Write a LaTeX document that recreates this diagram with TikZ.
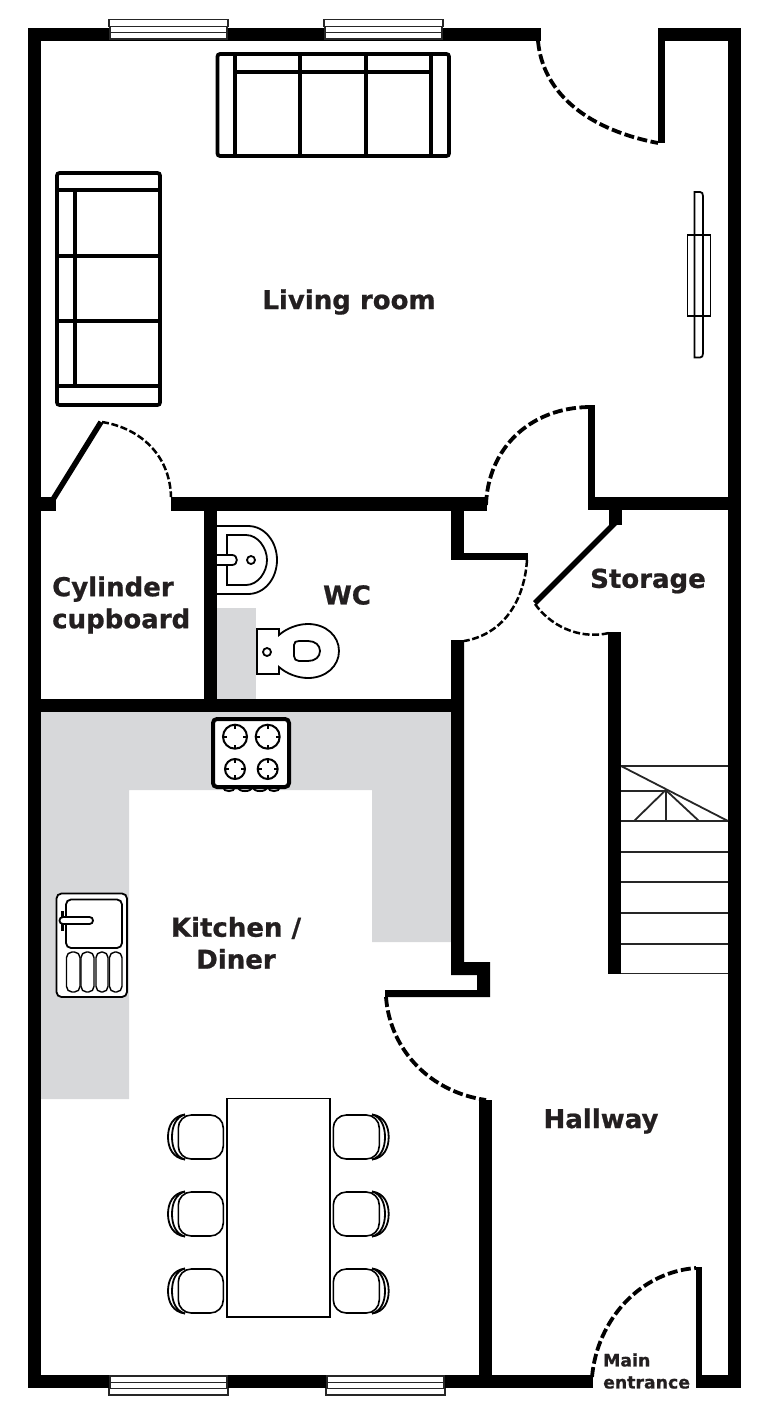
\documentclass[tikz,border=0pt]{standalone}
\usepackage{fontspec}
\setmainfont{DejaVu Sans}[BoldFeatures={FakeBold=0.8}]
\definecolor{counter}{HTML}{D7D8DA}
\definecolor{labelink}{HTML}{231F20}
\tikzset{
  wall/.style={fill=black,draw=none},
  dooredge/.style={line width=5.5pt,black},
  swingbig/.style={line width=3.8pt,dash pattern=on 10pt off 3.5pt,black},
  swingsmall/.style={line width=2.5pt,dash pattern=on 7pt off 2.6pt,black},
  sofa/.style={line width=3.7pt,black},
  fine/.style={line width=1.8pt,black},
  stairline/.style={line width=1.8pt,black!85},
  pane/.style={line width=1.5pt,draw=black!85,fill=white},
  label/.style={inner sep=0pt,text=labelink,font=\bfseries\fontsize{26}{32}\selectfont,align=center},
  smalllabel/.style={inner sep=0pt,text=labelink,font=\bfseries\fontsize{17.3}{22}\selectfont,align=left,anchor=west}
}
\begin{document}
\begin{tikzpicture}[x=1pt,y=-1pt]
\useasboundingbox (0,0) rectangle (766,1406);
% counters
\fill[counter] (41,712) -- (451,712) -- (451,942) -- (372,942) -- (372,790) -- (129,790) -- (129,1099) -- (41,1099) -- cycle;
\fill[counter] (217,608) rectangle (256,699);
% walls
\fill[wall] (28,28) rectangle (541,41);
\fill[wall] (658,28) rectangle (741,41);
\fill[wall] (658,28) rectangle (665,143);
\fill[wall] (28,28) rectangle (41,1388);
\fill[wall] (728,28) rectangle (741,1388);
\fill[wall] (28,497) rectangle (56,511);
\fill[wall] (171,497) rectangle (487,511);
\fill[wall] (204,497) rectangle (217,712);
\fill[wall] (28,699) rectangle (464,712);
\fill[wall] (451,497) rectangle (464,559);
\fill[wall] (451,553) rectangle (528,560);
\fill[wall] (588,405) rectangle (595,510);
\fill[wall] (588,497) rectangle (741,510);
\fill[wall] (609,510) rectangle (622,525);
\fill[wall] (608,632) rectangle (621,974);
\fill[wall] (451,640) -- (464,640) -- (464,962) -- (490,962) -- (490,997) -- (385,997) -- (385,990) -- (477,990) -- (477,975) -- (451,975) -- cycle;
\fill[wall] (479,1100) rectangle (492,1388);
\fill[wall] (28,1375) rectangle (593,1388);
\fill[wall] (696,1375) rectangle (741,1388);
\fill[wall] (696,1267) rectangle (702,1388);
% door leaves
\draw[dooredge] (52,501) -- (101,422);
\draw[dooredge] (617,521) -- (535,603);
% door swings
\draw[swingbig] (538,41) .. controls (543,95) and (590,130) .. (658,143);
\draw[swingsmall] (102,422) .. controls (140,428) and (170,455) .. (171,497);
\draw[swingbig] (486,505) .. controls (488,448) and (530,408) .. (589,407);
\draw[swingsmall] (527,560) .. controls (524,605) and (500,635) .. (464,641);
\draw[swingsmall] (535,604) .. controls (550,625) and (578,640) .. (609,633);
\draw[swingbig] (386,997) .. controls (390,1050) and (430,1092) .. (486,1100);
\draw[swingbig] (592,1377) .. controls (597,1320) and (640,1272) .. (696,1268);
% windows
\foreach \xa/\xb in {109/228,324/443}{
  \draw[pane] (\xa+1,26.5) rectangle (\xb-1,32.5);
  \draw[pane] (\xa+1,32.5) rectangle (\xb-1,39);
  \draw[pane] (\xa,19.5) rectangle (\xb,26.5);
}
\foreach \xa/\xb in {109/228,326/445}{
  \draw[pane] (\xa+1,1376) rectangle (\xb-1,1382.7);
  \draw[pane] (\xa+1,1382.7) rectangle (\xb-1,1388.5);
  \draw[pane] (\xa,1388.5) rectangle (\xb,1395);
}
% sofas
\draw[sofa,rounded corners=2.5pt] (217.5,54) rectangle (449,156);
\foreach \x in {235,300,365.7,431} \draw[sofa] (\x,54) -- (\x,156);
\draw[sofa] (235,72) -- (431,72);
\draw[sofa,rounded corners=2.5pt] (57,173) rectangle (160,405);
\foreach \y in {190,256,321,386} \draw[sofa] (57,\y) -- (160,\y);
\draw[sofa] (75,190) -- (75,386);
% TV
\draw[fine,fill=white] (687.5,235) rectangle (710.5,316);
\draw[fine] (694.5,192) -- (700,192) .. controls (702,192) and (703,193.5) .. (703,196) -- (703,353.5) .. controls (703,356) and (702,357.5) .. (700,357.5) -- (694.5,357.5) -- cycle;
% basin
\draw[fine] (216,526) -- (248,526) .. controls (265,526) and (277,542) .. (277,560) .. controls (277,578) and (265,594) .. (248,594) -- (216,594) -- cycle;
\draw[fine] (227,535) -- (246,535) .. controls (258,535) and (267,548) .. (267,560) .. controls (267,572) and (258,585) .. (246,585) -- (227,585) -- cycle;
\draw[fine,fill=white] (217,555) -- (232,555) .. controls (238.5,555) and (238.5,565) .. (232,565) -- (217,565);
\draw[fine] (251,560) circle (4);
% toilet
\draw[fine,fill=white] (279,635) .. controls (287,628) and (298,624) .. (308,624) .. controls (326,624) and (339,636) .. (339,651) .. controls (339,666) and (326,678) .. (308,678) .. controls (298,678) and (287,674) .. (279,667) -- (279,674) -- (257,674) -- (257,629) -- (279,629) -- cycle;
\draw[fine] (294,645) .. controls (294,642) and (296,641) .. (299,641) -- (308,641) .. controls (315,641) and (320,645) .. (320,651) .. controls (320,657) and (315,661) .. (308,661) -- (299,661) .. controls (296,661) and (294,659) .. (294,656) -- cycle;
\draw[fine] (267,652) circle (4);
% cooker
\foreach \xa/\xb in {223/235,238/252,253/267,268/280}
  \draw[line width=1.8pt] (\xa,787) .. controls (\xa,792.5) and (\xb,792.5) .. (\xb,787);
\draw[line width=4pt,black,fill=white,rounded corners=4pt] (213,719) rectangle (289,787);
\foreach \cx/\cy/\r in {235/736.7/12,267.7/736.7/12,235/769/10,267.7/769/10}{
  \draw[line width=2pt] (\cx,\cy) circle (\r);
  \foreach \a in {0,90,180,270}
    \draw[line width=1.6pt] (\cx,\cy) ++(\a:\r) -- ++(\a:-4);
}
% sink
\draw[fine,fill=white,rounded corners=5pt] (56.5,893.5) rectangle (127,997);
\draw[fine,rounded corners=5pt] (66,899.5) rectangle (122,948);
\draw[line width=3pt,black] (62,911) -- (62,931);
\draw[fine,fill=white,rounded corners=3.4pt] (59.5,917) rectangle (93,924);
\foreach \xa/\xb in {66.5/80,81/94,96/108,109.5/122}
  \draw[line width=1.4pt,rounded corners=5.5pt] (\xa,952) rectangle (\xb,992);
% stairs
\foreach \y in {766,821,851.7,882,913,944,973.5} \draw[stairline] (621,\y) -- (728,\y);
\draw[stairline] (621,766) -- (728,821);
\draw[stairline] (621,790.7) -- (665.7,790.7);
\draw[stairline] (665.7,790) -- (634,821);
\draw[stairline] (665.7,790) -- (665.7,821);
\draw[stairline] (665.7,790) -- (699,821);
% table and chairs
\draw[line width=1.8pt,black] (227.3,1098.5) rectangle (330,1317.3);
\foreach \cy in {1137,1214,1291}{
  \begin{scope}[shift={(0,\cy)}]
    \draw[line width=1.6pt,rounded corners=13pt] (178.3,-22) rectangle (223.3,22);
    \draw[line width=1.6pt,rounded corners=13pt] (333.3,-22) rectangle (379.3,22);
    \draw[line width=1.8pt] (185,-22.5) .. controls (173,-21) and (168,-11) .. (168,0) .. controls (168,11) and (173,21) .. (185,22.5);
    \draw[line width=1.8pt] (185,-22.5) .. controls (176,-20) and (172,-11) .. (172,0) .. controls (172,11) and (176,20) .. (185,22.5);
    \draw[line width=1.8pt] (372,-22.5) .. controls (384,-21) and (388.7,-11) .. (388.7,0) .. controls (388.7,11) and (384,21) .. (372,22.5);
    \draw[line width=1.8pt] (372,-22.5) .. controls (381,-20) and (385,-11) .. (385,0) .. controls (385,11) and (381,20) .. (372,22.5);
  \end{scope}
}
% labels
\node[label] (living) at (349,302) {Living room};
\node[label,align=left,anchor=west] (cylinder) at (52,605) {Cylinder\\cupboard};
\node[label] (wc) at (347,595) {WC};
\node[label] (storage) at (648,581) {Storage};
\node[label] (kitchen) at (236,943) {Kitchen /\\Diner};
\node[label] (hallway) at (601,1121) {Hallway};
\node[smalllabel] (entrance) at (603,1371) {Main\\entrance};
\end{tikzpicture}
\end{document}
